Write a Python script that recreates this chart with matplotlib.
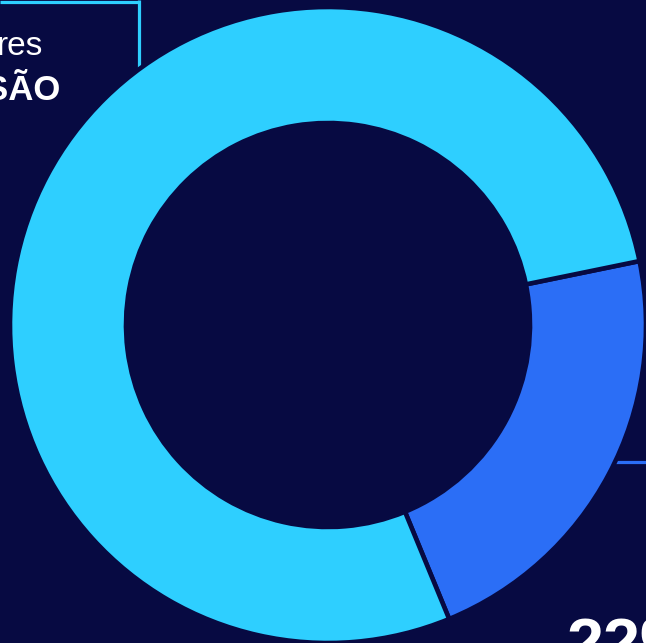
import matplotlib
matplotlib.use("Agg")
import matplotlib.pyplot as plt

# Data
segment_labels = ["Outros", "Destaque"]
segment_values = [22, 78]
segment_colors = ["#2B6EF6", "#2ECFFF"]
label_line1 = "res"
label_line2 = "SÃO"
percent_text = "22%"

BG = "#070A42"
W, H = 646, 643

fig = plt.figure(figsize=(W / 100, H / 100), dpi=100, facecolor=BG)
ax = fig.add_axes([0, 0, 1, 1], facecolor=BG)
ax.set_xlim(0, W)
ax.set_ylim(H, 0)
ax.axis("off")

# Box outlines behind the donut
ax.plot([0, 138.5], [1.5, 1.5], color="#2ECFFF", lw=2.3, zorder=1, solid_capstyle="butt")
ax.plot([138.5, 138.5], [0, 120], color="#2ECFFF", lw=2.3, zorder=1, solid_capstyle="butt")
ax.plot([590, W], [462, 462], color="#2B6EF6", lw=2.3, zorder=1, solid_capstyle="butt")

# Donut (y axis inverted -> use counterclock=False to keep visual CCW)
cx, cy, R = 328, 325, 318
wedges, _ = ax.pie(segment_values, colors=segment_colors, startangle=67.6,
                   counterclock=False, center=(cx, cy), radius=R,
                   wedgeprops=dict(width=116, edgecolor=BG, linewidth=3.3),
                   frame=True)
for w in wedges:
    w.set_zorder(2)
ax.set_xlim(0, W)
ax.set_ylim(H, 0)
ax.set_aspect("equal")
ax.axis("off")

# Texts
ax.text(-3, 55, label_line1, color="white", fontsize=24, family="Liberation Sans",
        ha="left", va="baseline", zorder=0)
ax.text(-15, 100, label_line2, color="white", fontsize=25, family="Liberation Sans",
        fontweight="bold", ha="left", va="baseline", zorder=0)
ax.text(567, 665, percent_text, color="white", fontsize=48, family="Liberation Sans",
        fontweight="bold", ha="left", va="baseline", zorder=3)

fig.savefig("out.png", dpi=100, facecolor=BG)
